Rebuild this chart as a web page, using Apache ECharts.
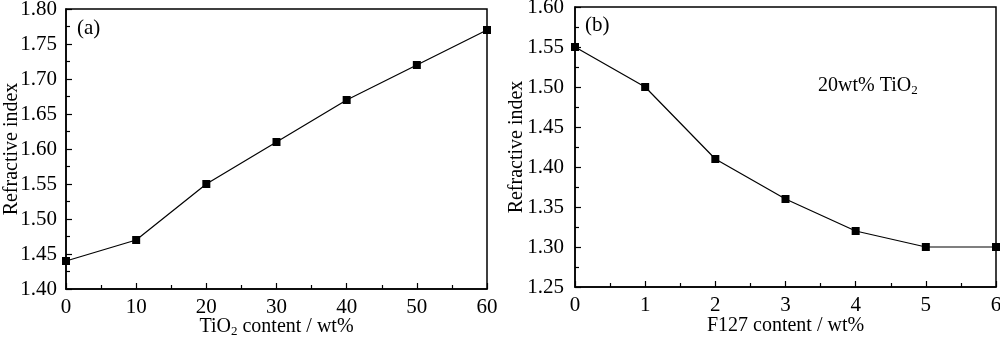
<!DOCTYPE html>
<html>
<head>
<meta charset="utf-8">
<script src="https://cdn.jsdelivr.net/npm/echarts@6/dist/echarts.min.js"></script>
<style>
html,body{margin:0;padding:0;background:#fff;}
#chart{width:1000px;height:338px;}
</style>
</head>
<body>
<div id="chart"></div>
<script>
// Panel (a): refractive index vs TiO2 loading
const tio2Content = [0, 10, 20, 30, 40, 50, 60];
const tio2Index = [1.44, 1.47, 1.55, 1.61, 1.67, 1.72, 1.77];
// Panel (b): refractive index vs F127 loading at 20wt% TiO2
const f127Content = [0, 1, 2, 3, 4, 5, 6];
const f127Index = [1.55, 1.50, 1.41, 1.36, 1.32, 1.30, 1.30];

const FONT = 'Liberation Serif';
const chart = echarts.init(document.getElementById('chart'), null, {renderer: 'canvas'});

function xAxisCfg(gridIndex, min, max, interval, name, nameGap) {
  return {
    type: 'value', gridIndex, min, max, interval,
    name, nameLocation: 'middle', nameGap, nameMoveOverlap: false,
    nameTextStyle: {
      fontFamily: FONT, fontSize: 20, color: '#000',
      rich: {sub: {fontFamily: FONT, fontSize: 13, color: '#000', verticalAlign: 'bottom', padding: [9, 0, 0, 0]}}
    },
    axisLine: {lineStyle: {color: '#000', width: 1.5}},
    axisTick: {inside: true, length: 6, lineStyle: {color: '#000', width: 1.2}},
    minorTick: {show: true, splitNumber: 2, length: 4, lineStyle: {color: '#000', width: 1.2}},
    axisLabel: {fontFamily: FONT, fontSize: 21, color: '#000', margin: 8},
    splitLine: {show: false}
  };
}
function yAxisCfg(gridIndex, min, max, interval, labelMargin, nameGap) {
  return {
    type: 'value', gridIndex, min, max, interval,
    name: 'Refractive index', nameLocation: 'middle', nameGap, nameMoveOverlap: false,
    nameTextStyle: {fontFamily: FONT, fontSize: 20, color: '#000'},
    axisLine: {lineStyle: {color: '#000', width: 1.5}},
    axisTick: {inside: true, length: 6, lineStyle: {color: '#000', width: 1.2}},
    minorTick: {show: true, splitNumber: 2, length: 4, lineStyle: {color: '#000', width: 1.2}},
    axisLabel: {fontFamily: FONT, fontSize: 21, color: '#000', margin: labelMargin,
      formatter: v => v.toFixed(2)},
    splitLine: {show: false}
  };
}
function seriesCfg(idx, xs, ys) {
  return {
    type: 'line', xAxisIndex: idx, yAxisIndex: idx,
    data: xs.map((x, i) => [x, ys[i]]),
    symbol: 'rect', symbolSize: 8,
    itemStyle: {color: '#000'},
    lineStyle: {color: '#000', width: 1.2},
    clip: false, animation: false
  };
}

chart.setOption({
  animation: false,
  grid: [
    {left: 66, right: 513, top: 9, bottom: 49, containLabel: false, outerBoundsMode: 'none',
     show: true, borderColor: '#000', borderWidth: 1.5, backgroundColor: 'transparent'},
    {left: 575, right: 4, top: 7, bottom: 51, containLabel: false, outerBoundsMode: 'none',
     show: true, borderColor: '#000', borderWidth: 1.5, backgroundColor: 'transparent'}
  ],
  xAxis: [
    xAxisCfg(0, 0, 60, 10, 'TiO{sub|2} content / wt%', 27),
    xAxisCfg(1, 0, 6, 1, 'F127 content / wt%', 29)
  ],
  yAxis: [
    yAxisCfg(0, 1.40, 1.80, 0.05, 9, 44),
    yAxisCfg(1, 1.25, 1.60, 0.05, 11, 48)
  ],
  series: [
    seriesCfg(0, tio2Content, tio2Index),
    seriesCfg(1, f127Content, f127Index)
  ],
  graphic: [
    {type: 'text', left: 77, top: 18, style: {text: '(a)', font: '21px "Liberation Serif"', fill: '#000'}},
    {type: 'text', left: 585, top: 15, style: {text: '(b)', font: '21px "Liberation Serif"', fill: '#000'}},
    {type: 'text', left: 818, top: 76, style: {
      text: '20wt% TiO{sub|2}', font: '20px "Liberation Serif"', fill: '#000',
      rich: {sub: {font: '13px "Liberation Serif"', fill: '#000', padding: [9, 0, 0, 0]}}
    }}
  ]
});
</script>
</body>
</html>
